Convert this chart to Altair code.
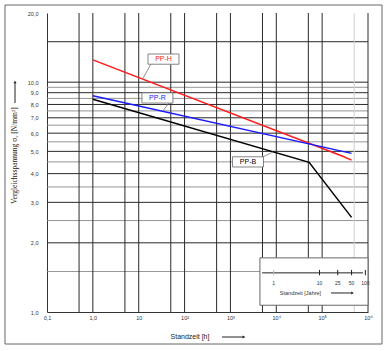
import altair as alt
import pandas as pd

# ---- data ----
series_names = ["PP-H", "PP-R", "PP-B"]
series_colors = ["#ff1a1a", "#1a1aff", "#000000"]

pph_hours = [1, 2.9e5, 4.38e5]
pph_stress = [12.5, 4.75, 4.58]
ppr_hours = [1, 4.38e5]
ppr_stress = [8.72, 4.9]
ppb_hours = [1, 5.2e4, 4.38e5]
ppb_stress = [8.43, 4.48, 2.58]

x_ticks = [0.1, 1, 10, 100, 1e3, 1e4, 1e5, 1e6]
y_ticks = [1, 2, 3, 4, 5, 6, 7, 8, 9, 10, 20]
x_grid = [0.5, 1, 5, 10, 50, 100, 500, 1e3, 5e3, 1e4, 5e4, 1e5, 1e6]
x_grid_light = [5e5]
y_grid_major = [2, 3, 4, 5, 6, 7, 8, 9, 10, 15]
y_grid_minor = [1.5, 2.5, 3.5, 4.5, 5.5, 6.5, 7.5, 8.5, 9.5]
years_ticks = [1, 10, 25, 50, 100]
years_labels = ["1", "10", "25", "50", "100"]
HOURS_PER_YEAR = 8760

# ---- tables ----
curves = pd.concat([
    pd.DataFrame({"series": "PP-H", "x": pph_hours, "y": pph_stress}),
    pd.DataFrame({"series": "PP-R", "x": ppr_hours, "y": ppr_stress}),
    pd.DataFrame({"series": "PP-B", "x": ppb_hours, "y": ppb_stress}),
])

# label boxes (anchor in data space) and leader lines
labels = pd.DataFrame({
    "series": series_names,
    "x": [34.7, 25.6, 2415],
    "y": [12.6, 8.54, 4.50],
})
leaders = pd.DataFrame({
    "series": series_names,
    "x": [18.5, 45.7, 5130], "y": [12.0, 8.12, 4.73],
    "x2": [12.4, 33.8, 8470], "y2": [10.4, 7.5, 4.97],
})

years_df = pd.DataFrame({
    "x": [v * HOURS_PER_YEAR for v in years_ticks],
    "label": years_labels,
})
years_df["y"] = 1.445
years_df["y2"] = 1.525
years_df["ylab"] = 1.34
years_df["first"] = [i == 0 for i in range(len(years_ticks))]

one = pd.DataFrame({"a": [0]})

# ---- scales / axes ----
xs = alt.Scale(type="log", domain=[0.1, 1e6], nice=False)
ys = alt.Scale(type="log", domain=[1, 20], nice=False)

x_label_expr = ("datum.value < 0.5 ? '0,1' : datum.value < 5 ? '1,0' : datum.value < 50 ? '10' : "
                "'10' + ['', '', '\u00b2', '\u00b3', '\u2074', '\u2075', '\u2076'][round(log(datum.value) / LN10)]")
x_axis = alt.Axis(values=x_ticks, labelExpr=x_label_expr, title=None, ticks=False, grid=False,
                  domainColor="#333333", domainWidth=1, labelFontSize=5.5, labelFont="Liberation Sans",
                  labelColor="#333333", labelPadding=3, labelFlush=False)
y_axis = alt.Axis(values=y_ticks, labelExpr="replace(format(datum.value, '.1f'), '.', ',')",
                  title=None, ticks=False, grid=False, domainColor="#333333", domainWidth=1,
                  labelFontSize=5.5, labelFont="Liberation Sans", labelColor="#333333", labelPadding=9)


def X(f="x"):
    return alt.X(f"{f}:Q", scale=xs, axis=x_axis)


def Y(f="y"):
    return alt.Y(f"{f}:Q", scale=ys, axis=y_axis)


color_scale = alt.Scale(domain=series_names, range=series_colors)

# ---- gridlines ----
g_minor = alt.Chart(pd.DataFrame({"y": y_grid_minor})).mark_rule(color="#8a8a8a", strokeWidth=0.9).encode(y=Y())
g_major = alt.Chart(pd.DataFrame({"y": y_grid_major})).mark_rule(color="#2a2a2a", strokeWidth=1).encode(y=Y())
g_vert = alt.Chart(pd.DataFrame({"x": x_grid})).mark_rule(color="#2a2a2a", strokeWidth=1).encode(x=X())
g_vert_l = alt.Chart(pd.DataFrame({"x": x_grid_light})).mark_rule(color="#d0d0d0", strokeWidth=1).encode(x=X())

# ---- inset (years axis) ----
inset_box = alt.Chart(pd.DataFrame({"x": [4400], "x2": [1e6], "y": [1.72], "y2": [1.07]})).mark_rect(
    fill="white", stroke="#666666", strokeWidth=1).encode(x=X(), x2="x2:Q", y=Y(), y2="y2:Q")
inset_line = alt.Chart(pd.DataFrame({"x": [4900], "x2": [7.8e5], "y": [1.48]})).mark_rule(
    color="#222222", strokeWidth=1).encode(x=X(), x2="x2:Q", y=Y())
inset_ticks = alt.Chart(years_df).mark_rule(strokeWidth=1).encode(
    x=X(), y=Y(), y2="y2:Q",
    color=alt.condition("datum.first", alt.value("#bbbbbb"), alt.value("#222222")))
inset_labels = alt.Chart(years_df).mark_text(fontSize=5, font="Liberation Sans", color="#333333").encode(
    x=X(), y=Y("ylab"), text="label:N")
inset_title = alt.Chart(pd.DataFrame({"x": [33700], "y": [1.21]})).mark_text(
    fontSize=5.5, font="Liberation Sans", color="#333333").encode(
    x=X(), y=Y(), text=alt.value("Standzeit [Jahre]"))
inset_arrow = alt.Chart(pd.DataFrame({"x": [1.56e5], "x2": [4.5e5], "y": [1.21]})).mark_rule(
    color="#222222", strokeWidth=1).encode(x=X(), x2="x2:Q", y=Y())
inset_head = alt.Chart(pd.DataFrame({"x": [4.6e5], "y": [1.21]})).mark_point(
    shape="triangle-right", filled=True, size=8, color="#222222", opacity=1).encode(x=X(), y=Y())

# ---- curves ----
lines = alt.Chart(curves).mark_line(strokeWidth=1.5).encode(
    x=X(), y=Y(), color=alt.Color("series:N", scale=color_scale, legend=None), detail="series:N")

lead = alt.Chart(leaders).mark_rule(color="#777777", strokeWidth=0.8).encode(
    x=X(), y=Y(), x2="x2:Q", y2="y2:Q")
box_path = "M-1,-0.33L1,-0.33L1,0.33L-1,0.33Z"
boxes = alt.Chart(labels).mark_point(shape=box_path, size=961, filled=True, fill="white",
                                     stroke="#777777", strokeWidth=0.9, opacity=1).encode(x=X(), y=Y())
box_text = alt.Chart(labels).mark_text(fontSize=7, font="Liberation Sans").encode(
    x=X(), y=Y(), text="series:N", color=alt.Color("series:N", scale=color_scale, legend=None))

# ---- frame, titles, arrows (decoration, pixel positions) ----
frame = alt.Chart(one).mark_rect(fillOpacity=0, stroke="#666666", strokeWidth=1).encode(
    x=alt.value(-42), x2=alt.value(335), y=alt.value(-8), y2=alt.value(331))
x_title = alt.Chart(one).mark_text(fontSize=7, font="Liberation Sans", color="#222222").encode(
    x=alt.value(143), y=alt.value(324), text=alt.value("Standzeit [h]"))
x_arrow = alt.Chart(one).mark_rule(color="#222222", strokeWidth=1).encode(
    x=alt.value(175), x2=alt.value(196), y=alt.value(324))
x_head = alt.Chart(one).mark_point(shape="triangle-right", filled=True, size=10, color="#222222",
                                   opacity=1).encode(x=alt.value(197), y=alt.value(324))
y_title = alt.Chart(one).mark_text(fontSize=7.5, font="Liberation Serif", color="#222222", angle=270,
                                   align="left", baseline="middle").encode(
    x=alt.value(-32), y=alt.value(191), text=alt.value("Vergleichsspannung  \u03c3\u1d65  [N/mm\u00b2]"))
y_arrow = alt.Chart(one).mark_rule(color="#222222", strokeWidth=1).encode(
    x=alt.value(-32), y=alt.value(90), y2=alt.value(70))
y_head = alt.Chart(one).mark_point(shape="triangle-up", filled=True, size=10, color="#222222",
                                   opacity=1).encode(x=alt.value(-32), y=alt.value(69))

chart = alt.layer(
    g_minor, g_major, g_vert, g_vert_l,
    inset_box, inset_line, inset_ticks, inset_labels, inset_title, inset_arrow, inset_head,
    lines, lead, boxes, box_text,
    frame, x_title, x_arrow, x_head, y_title, y_arrow, y_head,
).properties(
    width=321, height=299,
    autosize=alt.AutoSizeParams(type="none"),
    padding={"left": 47, "top": 13, "right": 19, "bottom": 39},
    background="white",
).configure_view(stroke=None)

chart.save("out.html", embed_options={"renderer": "svg", "actions": False})
